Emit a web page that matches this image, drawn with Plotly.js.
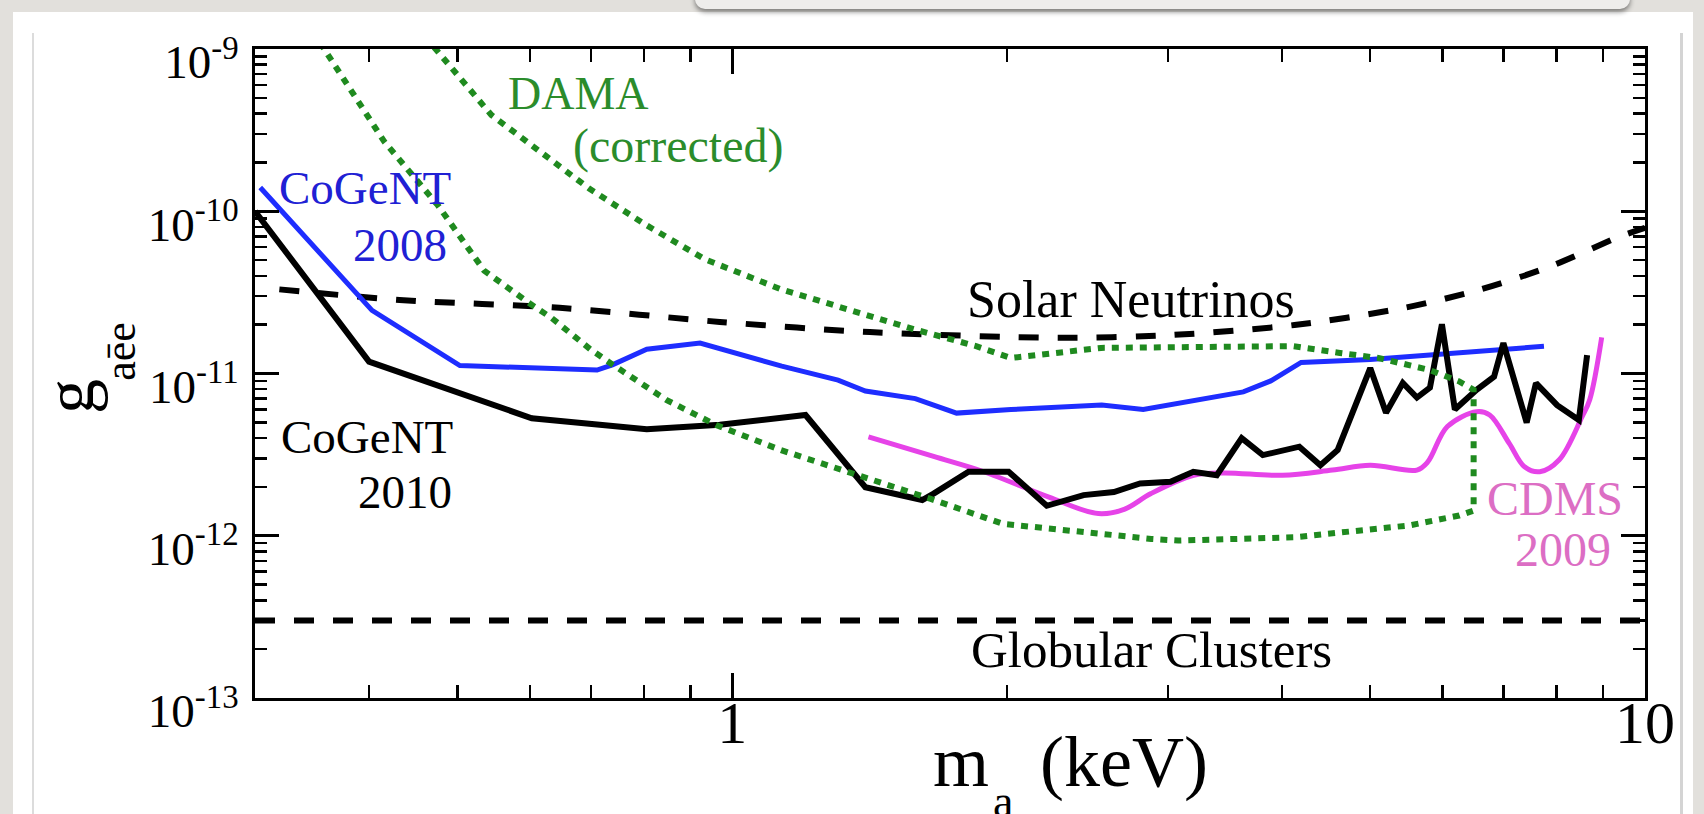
<!DOCTYPE html>
<html>
<head>
<meta charset="utf-8">
<script src="https://cdn.plot.ly/plotly-3.0.1.min.js"></script>
<style>
  html, body { margin: 0; padding: 0; width: 1704px; height: 814px; overflow: hidden; background: #e2e0dc; }
  #panel { position: absolute; left: 13px; top: 12px; width: 1680px; height: 820px; background: #ffffff; }
  #frameL { position: absolute; left: 32px; top: 33px; width: 2px; height: 800px; background: #dcdcdc; }
  #frameR { position: absolute; left: 1680px; top: 33px; width: 3px; height: 800px; background: #d4d4d4; }
  #topbar { position: absolute; left: 695px; top: -24px; width: 935px; height: 33px; background: #eeedeb; border-radius: 10px; box-shadow: 0 3px 5px rgba(0,0,0,0.45); }
  #chart { position: absolute; left: 0; top: 0; width: 1704px; height: 814px; }
</style>
</head>
<body>
<div id="panel"></div>
<div id="frameL"></div>
<div id="frameR"></div>
<div id="topbar"></div>
<div id="chart"></div>
<script>
// ---------------- data ----------------
const globularX = [0.3, 10];
const globularY = [3.0e-13, 3.0e-13];

const solarX = [0.319, 0.432, 0.647, 0.969, 1.415, 2.283, 3.05, 4.13, 5.45, 6.58, 7.85, 9.37, 10];
const solarY = [3.3e-11, 2.84e-11, 2.54e-11, 2.08e-11, 1.80e-11, 1.66e-11, 1.73e-11, 1.99e-11, 2.54e-11, 3.28e-11, 4.54e-11, 6.96e-11, 7.9e-11];

const cogent2008X = [0.304, 0.403, 0.503, 0.711, 0.739, 0.806, 0.922, 1.133, 1.306, 1.399, 1.587, 1.761, 2.02, 2.54, 2.82, 3.63, 3.89, 4.20, 5.00, 7.75];
const cogent2008Y = [1.40e-10, 2.45e-11, 1.12e-11, 1.05e-11, 1.13e-11, 1.41e-11, 1.54e-11, 1.11e-11, 9.1e-12, 7.8e-12, 7.0e-12, 5.7e-12, 6.0e-12, 6.4e-12, 6.0e-12, 7.7e-12, 9.0e-12, 1.17e-11, 1.22e-11, 1.47e-11];

const cogent2010X = [0.300, 0.400, 0.603, 0.634, 0.806, 0.969, 1.203, 1.399, 1.615, 1.662, 1.815, 2.008, 2.211, 2.426, 2.619, 2.798, 3.021, 3.200, 3.395, 3.615, 3.813, 4.181, 4.409, 4.606, 5.000, 5.203, 5.428, 5.625, 5.813, 5.991, 6.190, 6.539, 6.833, 6.996, 7.419, 7.595, 8.011, 8.463, 8.641];
const cogent2010Y = [1.0e-10, 1.184e-11, 5.30e-12, 5.17e-12, 4.53e-12, 4.83e-12, 5.55e-12, 1.99e-12, 1.66e-12, 1.82e-12, 2.48e-12, 2.48e-12, 1.53e-12, 1.78e-12, 1.86e-12, 2.10e-12, 2.15e-12, 2.48e-12, 2.36e-12, 4.0e-12, 3.14e-12, 3.54e-12, 2.72e-12, 3.38e-12, 1.08e-11, 5.72e-12, 8.75e-12, 7.11e-12, 8.18e-12, 2.01e-11, 6.0e-12, 7.93e-12, 9.55e-12, 1.54e-11, 4.98e-12, 8.73e-12, 6.38e-12, 5.17e-12, 1.30e-11];

const cdms2009X = [1.410, 1.662, 1.886, 2.223, 2.518, 2.692, 2.876, 3.203, 3.454, 4.005, 4.544, 5.000, 5.625, 5.781, 6.074, 6.539, 6.758, 7.100, 7.379, 7.668, 8.055, 8.533, 8.698, 8.965];
const cdms2009Y = [4.07e-12, 3.08e-12, 2.48e-12, 1.73e-12, 1.37e-12, 1.46e-12, 1.82e-12, 2.36e-12, 2.44e-12, 2.36e-12, 2.54e-12, 2.72e-12, 2.54e-12, 2.85e-12, 4.71e-12, 5.81e-12, 5.55e-12, 3.71e-12, 2.66e-12, 2.48e-12, 2.94e-12, 5.42e-12, 6.89e-12, 1.67e-11];

// DAMA (corrected) closed contour: upper branch left->right, vertical edge, lower branch right->left
const damaX = [0.4714, 0.5446, 0.6320, 0.6977, 0.8066, 0.9326, 1.131, 1.372, 1.585, 1.850, 2.018, 2.536, 3.395, 4.121, 4.631, 5.103, 5.790, 6.258, 6.49,
               6.49, 6.258, 5.514, 4.121, 3.080, 2.878, 2.447, 1.979, 1.647, 1.372, 1.131, 0.9598, 0.8466, 0.7396, 0.6995, 0.6339, 0.6001, 0.5348, 0.4760, 0.4158, 0.3562];
const damaY = [1.025e-9, 3.92e-10, 2.088e-10, 1.374e-10, 8.16e-11, 5.07e-11, 3.30e-11, 2.37e-11, 1.868e-11, 1.474e-11, 1.246e-11, 1.438e-11, 1.474e-11, 1.474e-11, 1.339e-11, 1.246e-11, 1.056e-11, 8.94e-12, 7.94e-12,
               1.43e-12, 1.332e-12, 1.157e-12, 9.78e-13, 9.34e-13, 9.56e-13, 1.05e-12, 1.184e-12, 1.692e-12, 2.36e-12, 3.37e-12, 4.82e-12, 6.88e-12, 1.134e-11, 1.406e-11, 2.20e-11, 2.70e-11, 4.30e-11, 1.086e-10, 2.68e-10, 1.025e-9];

// ticks
const xTickVals = [1, 10];
const xTickText = ['1', '10'];
const xMinorTicks = [0.4, 0.5, 0.6, 0.7, 0.8, 0.9, 2, 3, 4, 5, 6, 7, 8, 9];
const yTickVals = [1e-13, 1e-12, 1e-11, 1e-10, 1e-9];
const yTickText = ['10<sup>-13</sup>', '10<sup>-12</sup>', '10<sup>-11</sup>', '10<sup>-10</sup>', '10<sup>-9</sup>'];
const yMinorTicks = [2e-13, 3e-13, 4e-13, 5e-13, 6e-13, 7e-13, 8e-13, 9e-13,
                     2e-12, 3e-12, 4e-12, 5e-12, 6e-12, 7e-12, 8e-12, 9e-12,
                     2e-11, 3e-11, 4e-11, 5e-11, 6e-11, 7e-11, 8e-11, 9e-11,
                     2e-10, 3e-10, 4e-10, 5e-10, 6e-10, 7e-10, 8e-10, 9e-10];

// ---------------- chart ----------------
const FONT = 'Liberation Serif, Times New Roman, serif';
const GREEN = '#1f8a1f';

const traces = [
  {x: globularX, y: globularY, mode: 'lines', name: 'Globular Clusters', line: {color: '#000', width: 6, dash: '20px,19px'}},
  {x: solarX, y: solarY, mode: 'lines', name: 'Solar Neutrinos', line: {color: '#000', width: 6, dash: '20px,19px', shape: 'spline', smoothing: 0.8}},
  {x: cogent2008X, y: cogent2008Y, mode: 'lines', name: 'CoGeNT 2008', line: {color: '#1e2dff', width: 5}},
  {x: cdms2009X, y: cdms2009Y, mode: 'lines', name: 'CDMS 2009', line: {color: '#e643e8', width: 5, shape: 'spline', smoothing: 1}},
  {x: cogent2010X, y: cogent2010Y, mode: 'lines', name: 'CoGeNT 2010', line: {color: '#000', width: 6}},
  {x: damaX, y: damaY, mode: 'lines', name: 'DAMA (corrected)', line: {color: GREEN, width: 6, dash: '7px,7px'}}
];

function ann(text, x, y, size, color, extra) {
  return Object.assign({text: text, x: x, y: y, xref: 'paper', yref: 'paper', showarrow: false,
    xanchor: 'center', yanchor: 'middle', font: {family: FONT, size: size, color: color}}, extra || {});
}

const annotations = [
  ann('DAMA', 0.2324, 0.9319, 46, '#2b8c2b'),
  ann('(corrected)', 0.3050, 0.8500, 48, '#2b8c2b'),
  ann('CoGeNT', 0.0788, 0.7862, 47, '#2020d4'),
  ann('2008', 0.1043, 0.6983, 47, '#2020d4'),
  ann('CoGeNT', 0.0806, 0.4023, 47, '#000'),
  ann('2010', 0.1076, 0.3176, 47, '#000'),
  ann('Solar Neutrinos', 0.6302, 0.6135, 52, '#000'),
  ann('Globular Clusters', 0.6453, 0.0732, 51, '#000'),
  ann('CDMS', 0.9356, 0.3068, 48, '#dc6ec4'),
  ann('2009', 0.9410, 0.2281, 48, '#dc6ec4'),
  // axis titles
  ann('m', 0.5079, -0.0987, 72, '#000'),
  ann('(keV)', 0.6252, -0.0987, 72, '#000'),
  ann('a', 0.538, -0.160, 46, '#000'),
  ann('g', -0.1331, 0.4654, 70, '#000', {textangle: -90}),
  ann('a\u0113e', -0.0964, 0.5334, 44, '#000', {textangle: -90})
];

const layout = {
  width: 1704, height: 814,
  margin: {l: 255, r: 59, t: 49, b: 116},
  paper_bgcolor: 'rgba(0,0,0,0)',
  plot_bgcolor: '#ffffff',
  showlegend: false,
  font: {family: FONT, color: '#000'},
  xaxis: {
    type: 'log', range: [Math.log10(0.3), 1],
    tickmode: 'array', tickvals: xTickVals, ticktext: xTickText,
    ticks: 'inside', ticklen: 25, tickwidth: 3, tickcolor: '#000',
    minor: {tickmode: 'array', tickvals: xMinorTicks, ticks: 'inside', ticklen: 13, tickwidth: 2.5, tickcolor: '#000', showgrid: false},
    showline: true, linecolor: '#000', linewidth: 3, mirror: 'allticks',
    showgrid: false, zeroline: false,
    tickfont: {family: FONT, size: 60, color: '#000'},
    ticklabelstandoff: -30
  },
  yaxis: {
    type: 'log', range: [-13, -9],
    tickmode: 'array', tickvals: yTickVals, ticktext: yTickText,
    ticks: 'inside', ticklen: 24, tickwidth: 3, tickcolor: '#000',
    minor: {tickmode: 'array', tickvals: yMinorTicks, ticks: 'inside', ticklen: 12, tickwidth: 2.5, tickcolor: '#000', showgrid: false},
    showline: true, linecolor: '#000', linewidth: 3, mirror: 'allticks',
    showgrid: false, zeroline: false,
    tickfont: {family: FONT, size: 47, color: '#000'},
    ticklabelshift: 13,
    ticklabelstandoff: 4
  },
  annotations: annotations
};

Plotly.newPlot('chart', traces, layout, {staticPlot: true, displayModeBar: false});
</script>
</body>
</html>
